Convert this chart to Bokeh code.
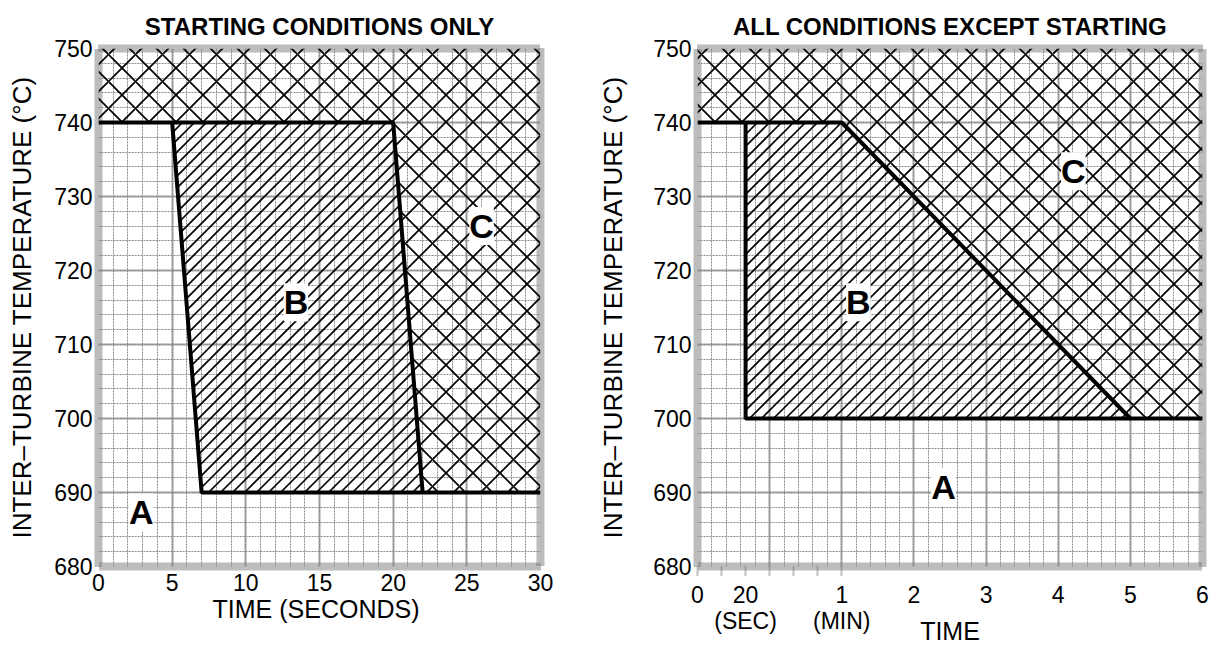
from bokeh.plotting import figure
from bokeh.layouts import row
from bokeh.models import FixedTicker, Label
from bokeh.embed import file_html
from bokeh.resources import INLINE

FONT = "Liberation Sans"

# ---------------- data ----------------
# Left panel: starting conditions, time in seconds
left_c_x = [0, 0, 30, 30, 22, 20]
left_c_y = [740, 750, 750, 690, 690, 740]
left_b_x = [5, 20, 22, 7]
left_b_y = [740, 740, 690, 690]
left_line1_x = [0, 20, 22]
left_line1_y = [740, 740, 690]
left_line2_x = [5, 7, 30]
left_line2_y = [740, 690, 690]
left_x_ticks = [0, 5, 10, 15, 20, 25, 30]
y_ticks = [680, 690, 700, 710, 720, 730, 740, 750]

# Right panel: all conditions except starting, time in seconds
right_c_t = [0, 0, 360, 360, 300, 60]
right_c_y = [740, 750, 750, 700, 700, 740]
right_b_t = [20, 60, 300, 20]
right_b_y = [740, 740, 700, 700]
right_line1_t = [0, 60, 300, 360]
right_line1_y = [740, 740, 700, 700]
right_line2_t = [20, 20, 300]
right_line2_y = [740, 700, 700]
right_tick_t = [0, 20, 60, 120, 180, 240, 300, 360]
right_tick_labels = ["0", "20\n(SEC)", "1\n(MIN)", "2", "3", "4", "5", "6"]
right_minor_t = [0, 10, 20, 30, 40, 50, 60]

# layout
FRAME_H = 518
LEFT_FRAME_W = 442
RIGHT_FRAME_W = 505


def tu(t):
    """Right-panel time axis: first minute stretched (seconds), then minutes."""
    return t / 30.0 if t <= 60 else 2.0 + (t - 60) / 60.0


def hatch_segments(xs, ys, sx, sy, y0, spacing):
    """45-degree '/' hatch lines clipped to a convex polygon (screen-proportional)."""
    P = [(x * sx, (y - y0) * sy) for x, y in zip(xs, ys)]
    area = sum(P[i][0] * P[(i + 1) % len(P)][1] - P[(i + 1) % len(P)][0] * P[i][1]
               for i in range(len(P)))
    if area < 0:
        P = P[::-1]
    cs = [py - px for px, py in P]
    cmin, cmax = min(cs), max(cs)
    segx, segy = [], []
    c = (int(cmin // spacing) + 1) * spacing
    while c < cmax:
        lo, hi = -1e9, 1e9
        ok = True
        for i in range(len(P)):
            ax, ay = P[i]
            bx, by = P[(i + 1) % len(P)]
            k = (bx - ax) - (by - ay)
            m = (bx - ax) * (c - ay) + (by - ay) * ax
            if abs(k) < 1e-12:
                if m < 0:
                    ok = False
                    break
            elif k > 0:
                lo = max(lo, -m / k)
            else:
                hi = min(hi, -m / k)
        if ok and hi > lo:
            segx.append([lo / sx, hi / sx])
            segy.append([(lo + c) / sy + y0, (hi + c) / sy + y0])
        c += spacing
    return segx, segy


def style(p, xlabel, label_standoff, ylabel_standoff, tick_standoff):
    p.outline_line_color = "#7a7a7a"
    p.outline_line_width = 8
    p.outline_line_dash = "1 1"
    p.background_fill_color = "white"
    p.border_fill_color = "white"
    for ax in (p.xaxis[0], p.yaxis[0]):
        ax.axis_line_color = None
        ax.major_tick_line_color = None
        ax.minor_tick_line_color = None
        ax.major_tick_out = 0
        ax.major_tick_in = 0
        ax.minor_tick_out = 0
        ax.minor_tick_in = 0
        ax.major_label_text_font = FONT
        ax.major_label_text_font_size = "23px"
        ax.major_label_text_color = "black"
        ax.major_label_text_line_height = 1.0
        ax.axis_label_text_font = FONT
        ax.axis_label_text_font_size = "25px"
        ax.axis_label_text_font_style = "normal"
        ax.axis_label_text_color = "black"
    p.yaxis[0].axis_label = "INTER\u2013TURBINE TEMPERATURE (\u00b0C)"
    p.yaxis[0].axis_label_text_font_size = "26px"
    p.yaxis[0].ticker = FixedTicker(ticks=y_ticks)
    p.yaxis[0].major_label_standoff = 6
    p.yaxis[0].axis_label_standoff = ylabel_standoff
    p.xaxis[0].axis_label = xlabel
    p.xaxis[0].major_label_standoff = tick_standoff
    p.xaxis[0].axis_label_standoff = label_standoff
    for g in (p.xgrid[0], p.ygrid[0]):
        g.grid_line_color = "#808080"
        g.grid_line_width = 2.5
        g.grid_line_dash = "1 1"
        g.minor_grid_line_color = "#8a8a8a"
        g.minor_grid_line_width = 1
        g.minor_grid_line_dash = "2 1"
    p.ygrid[0].ticker = FixedTicker(ticks=y_ticks, minor_ticks=list(range(680, 751, 2)))
    p.title.text_font = FONT
    p.title.text_font_size = "24px"
    p.title.text_font_style = "bold"
    p.title.align = "center"
    p.title.text_color = "black"
    p.title.standoff = 17


def letter(p, x, y, s):
    p.add_layout(Label(x=x, y=y, text=s, text_font=FONT, text_font_size="34px",
                       text_font_style="bold", text_align="center",
                       text_baseline="middle", background_fill_color="white",
                       text_color="black"))


HATCH_W = 1.7
LINE_W = 4

# ---------------- left figure ----------------
p1 = figure(width=593, height=648, x_range=(0, 30), y_range=(680, 750),
            output_backend="svg", toolbar_location=None,
            title="STARTING CONDITIONS ONLY",
            min_border_left=98, min_border_right=53, min_border_top=48,
            min_border_bottom=82)
style(p1, "TIME  (SECONDS)", 1, 14, 7)
p1.xaxis[0].ticker = FixedTicker(ticks=left_x_ticks)
p1.xgrid[0].ticker = FixedTicker(ticks=left_x_ticks, minor_ticks=list(range(0, 31)))

p1.patch(left_c_x, left_c_y, fill_color=None, line_color=None,
         hatch_pattern="diagonal_cross", hatch_color="black", hatch_scale=27,
         hatch_weight=HATCH_W)
bx, by = hatch_segments(left_b_x, left_b_y, LEFT_FRAME_W / 30.0, FRAME_H / 70.0, 680, 12)
p1.multi_line(bx, by, line_color="black", line_width=HATCH_W)
p1.line(left_line1_x, left_line1_y, line_color="black", line_width=LINE_W)
p1.line(left_line2_x, left_line2_y, line_color="black", line_width=LINE_W)
letter(p1, 2.9, 687.3, "A")
letter(p1, 13.4, 715.7, "B")
letter(p1, 26.0, 726.0, "C")

# ---------------- right figure ----------------
p2 = figure(width=619, height=648, x_range=(0, 7), y_range=(680, 750),
            output_backend="svg", toolbar_location=None,
            title="ALL CONDITIONS EXCEPT STARTING",
            min_border_left=104, min_border_right=10, min_border_top=48,
            min_border_bottom=82)
style(p2, "TIME", -20, 22, 6)
tick_u = [tu(t) for t in right_tick_t]
p2.xaxis[0].ticker = FixedTicker(ticks=tick_u, minor_ticks=[tu(t) for t in right_minor_t])
p2.xaxis[0].major_label_overrides = {u: lab for u, lab in zip(tick_u, right_tick_labels)}
p2.xaxis[0].minor_tick_line_color = "#808080"
p2.xaxis[0].minor_tick_line_width = 2
p2.xaxis[0].minor_tick_line_dash = "1 1"
p2.xaxis[0].minor_tick_out = 9
p2.xgrid[0].ticker = FixedTicker(ticks=list(range(0, 8)),
                                 minor_ticks=[i / 5 for i in range(0, 36)])

p2.patch([tu(t) for t in right_c_t], right_c_y, fill_color=None, line_color=None,
         hatch_pattern="diagonal_cross", hatch_color="black", hatch_scale=27,
         hatch_weight=HATCH_W)
rbx, rby = hatch_segments([tu(t) for t in right_b_t], right_b_y,
                          RIGHT_FRAME_W / 7.0, FRAME_H / 70.0, 680, 12)
p2.multi_line(rbx, rby, line_color="black", line_width=HATCH_W)
p2.line([tu(t) for t in right_line1_t], right_line1_y, line_color="black", line_width=LINE_W)
p2.line([tu(t) for t in right_line2_t], right_line2_y, line_color="black", line_width=LINE_W)
letter(p2, 5.21, 733.4, "C")
letter(p2, 2.23, 715.7, "B")
letter(p2, 3.41, 690.7, "A")

layout = row(p1, p2, spacing=0)
open("out.html", "w").write(file_html(layout, INLINE))
